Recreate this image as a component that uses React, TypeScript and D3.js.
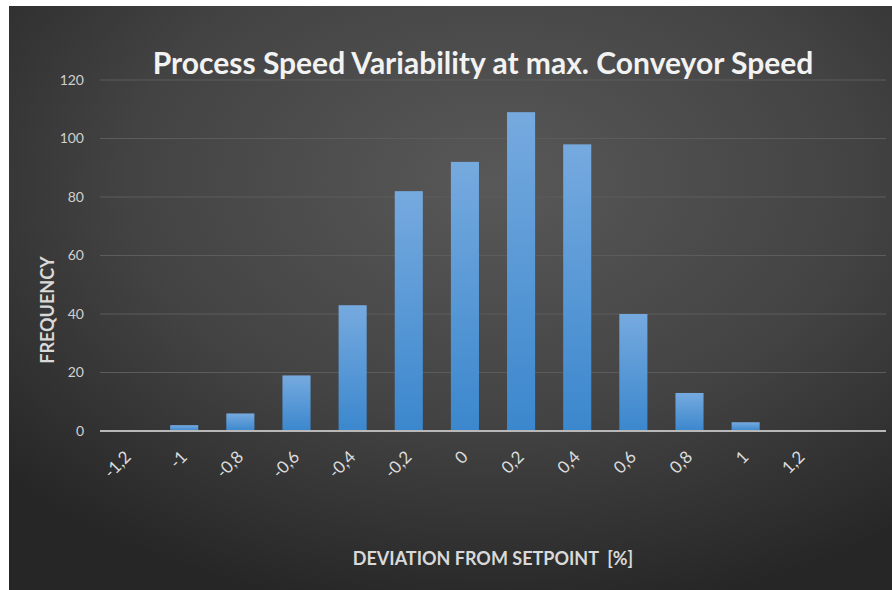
import React from 'react';
import * as d3 from 'd3';

// histogram bins (last slot is the empty "more" bin)
const binLabels = ['-1,2', '-1', '-0,8', '-0,6', '-0,4', '-0,2', '0', '0,2', '0,4', '0,6', '0,8', '1', '1,2', ''];
const frequency = [0, 2, 6, 19, 43, 82, 92, 109, 98, 40, 13, 3, 0, 0];
const yTicks = [0, 20, 40, 60, 80, 100, 120];

const W = 892;
const H = 590;
const margin = { top: 80, right: 6, bottom: 159, left: 100 };
const font = 'Lato, "Open Sans", sans-serif';

export default function App() {
  const x = d3
    .scaleBand()
    .domain(binLabels.map((_, i) => String(i)))
    .range([margin.left, W - margin.right])
    .paddingInner(0.5)
    .paddingOuter(0.25);

  const y = d3
    .scaleLinear()
    .domain([0, 120])
    .range([H - margin.bottom, margin.top]);

  const y0 = y(0);

  return (
    <svg width={W} height={H} style={{ position: 'absolute', left: 0, top: 0 }}>
      <defs>
        <radialGradient id="bg" cx="0.55" cy="0.3" r="0.75">
          <stop offset="0" stopColor="#585858" />
          <stop offset="0.55" stopColor="#434343" />
          <stop offset="1" stopColor="#262626" />
        </radialGradient>
        <linearGradient id="bar" x1="0" y1="0" x2="0" y2="1">
          <stop offset="0" stopColor="#76aadf" />
          <stop offset="1" stopColor="#3b87cd" />
        </linearGradient>
      </defs>
      <rect width={W} height={H} fill="#fff" />
      <rect x={9} y={6} width={W - 9} height={H - 6} fill="url(#bg)" />

      <text
        x={483}
        y={74}
        textAnchor="middle"
        fill="#f2f2f2"
        fontFamily={font}
        fontWeight="bold"
        fontSize={30}
      >
        Process Speed Variability at max. Conveyor Speed
      </text>

      {/* grid + y labels */}
      {yTicks.map((t) => (
        <g key={t}>
          {t > 0 && (
            <line x1={margin.left} x2={W - margin.right} y1={y(t)} y2={y(t)} stroke="#5c5c5c" strokeWidth={1} />
          )}
          <text
            x={84}
            y={y(t)}
            dy="0.35em"
            textAnchor="end"
            fill="#d0d0d0"
            fontFamily={font}
            fontSize={14}
          >
            {t}
          </text>
        </g>
      ))}

      {/* bars */}
      {frequency.map((v, i) => (
        <rect
          key={i}
          x={x(String(i))!}
          y={y(v)}
          width={x.bandwidth()}
          height={y0 - y(v)}
          fill="url(#bar)"
        />
      ))}

      <line x1={margin.left} x2={W - margin.right} y1={y0} y2={y0} stroke="#b8b8b8" strokeWidth={2} />

      {/* x labels */}
      {binLabels.map((l, i) => {
        const cx = x(String(i))! + x.bandwidth() / 2 + 4;
        const cy = y0 + 27;
        return (
          <text
            key={i}
            transform={`translate(${cx},${cy}) rotate(-45)`}
            textAnchor="end"
            fill="#dcdcdc"
            fontFamily={font}
            fontSize={17}
          >
            {l}
          </text>
        );
      })}

      <text
        x={493}
        y={565}
        textAnchor="middle"
        fill="#d9d9d9"
        fontFamily={font}
        fontWeight="bold"
        fontSize={18}
        style={{ whiteSpace: 'pre' }}
      >
        {'DEVIATION FROM SETPOINT  [%]'}
      </text>

      <text
        transform={`translate(54,310) rotate(-90)`}
        textAnchor="middle"
        fill="#d9d9d9"
        fontFamily={font}
        fontWeight="bold"
        fontSize={18}
      >
        FREQUENCY
      </text>
    </svg>
  );
}
